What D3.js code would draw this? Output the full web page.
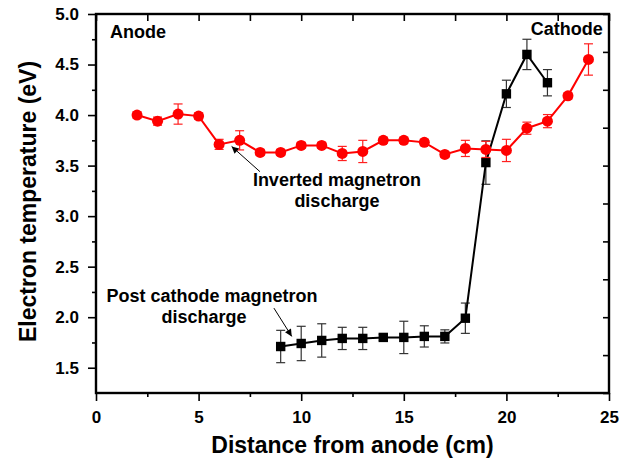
<!DOCTYPE html>
<html>
<head>
<meta charset="utf-8">
<script src="https://cdn.jsdelivr.net/npm/d3@7"></script>
<style>
  html, body { margin: 0; padding: 0; background: #fff; }
  svg text { font-family: "Liberation Sans", Arial, sans-serif; font-weight: bold; fill: #000; }
</style>
</head>
<body>
<div id="chart"></div>
<script>
// 数据：反向磁控放电（红）
const distRed = [2, 3, 4, 5, 6, 7, 8, 9, 10, 11, 12, 13, 14, 15, 16, 17, 18, 19, 20, 21, 22, 23, 24];
const teRed   = [4.00, 3.94, 4.01, 3.99, 3.71, 3.75, 3.63, 3.63, 3.70, 3.70, 3.62, 3.64, 3.75, 3.75, 3.73, 3.61, 3.67, 3.66, 3.65, 3.87, 3.94, 4.19, 4.55];
const errRed  = [0.03, 0.04, 0.10, 0.03, 0.05, 0.095, 0.03, 0.03, 0.03, 0.03, 0.07, 0.11, 0.03, 0.03, 0.03, 0.03, 0.08, 0.08, 0.11, 0.06, 0.065, 0.03, 0.155];

// 数据：后阴极磁控放电（黑）
const distBlack = [9, 10, 11, 12, 13, 14, 15, 16, 17, 18, 19, 20, 21, 22];
const teBlack   = [1.71, 1.74, 1.77, 1.79, 1.79, 1.80, 1.80, 1.81, 1.81, 1.99, 3.53, 4.21, 4.60, 4.32];
const errBlack  = [0.16, 0.17, 0.165, 0.11, 0.11, 0.03, 0.16, 0.105, 0.065, 0.15, 0.215, 0.135, 0.15, 0.13];

// 刻度
const xTicks = [0, 5, 10, 15, 20, 25];
const xMinor = [2.5, 7.5, 12.5, 17.5, 22.5];
const yTicks = [1.5, 2.0, 2.5, 3.0, 3.5, 4.0, 4.5, 5.0];
const yMinor = [1.75, 2.25, 2.75, 3.25, 3.75, 4.25, 4.75];

const width = 632, height = 465;

const svg = d3.select('#chart').append('svg')
    .attr('width', width)
    .attr('height', height);

const x = d3.scaleLinear().domain([0, 25]).range([96, 609]);
const y = d3.scaleLinear().domain([1.25, 5.0]).range([393, 14]);

// 右侧刻度：范围十等分
const yRight = d3.range(11).map(i => 1.25 + i * 0.375);
const xTop = d3.range(11).map(i => i * 2.5);

// 左轴
const left = svg.append('g').attr('transform', `translate(${x(0)},0)`);
left.call(d3.axisLeft(y).tickValues(yTicks).tickSize(8).tickPadding(9).tickFormat(d3.format('.1f')));
left.append('g').call(d3.axisLeft(y).tickValues(yMinor).tickSize(4).tickFormat(''));

// 底轴
const bottom = svg.append('g').attr('transform', `translate(0,${y(1.25)})`);
bottom.call(d3.axisBottom(x).tickValues(xTicks).tickSize(8).tickPadding(10).tickFormat(d3.format('d')));
bottom.append('g').call(d3.axisBottom(x).tickValues(xMinor).tickSize(4).tickFormat(''));

// 顶轴、右轴（向内刻度）
svg.append('g').attr('transform', `translate(0,${y(5)})`)
    .call(d3.axisBottom(x).tickValues(xTop).tickSize(7).tickFormat(''));
svg.append('g').attr('transform', `translate(${x(25)},0)`)
    .call(d3.axisLeft(y).tickValues(yRight).tickSize(6).tickFormat(''));

svg.selectAll('.domain').remove();
svg.selectAll('.tick line').attr('stroke', '#000').attr('stroke-width', 1.6);
svg.selectAll('.tick text').style('font-size', '17px').attr('fill', '#000');

// 边框
svg.append('rect')
    .attr('x', x(0)).attr('y', y(5))
    .attr('width', x(25) - x(0)).attr('height', y(1.25) - y(5))
    .attr('fill', 'none').attr('stroke', '#000').attr('stroke-width', 2.4);

// 坐标轴标题
svg.append('text')
    .attr('x', (x(0) + x(25)) / 2).attr('y', 453)
    .attr('text-anchor', 'middle')
    .style('font-size', '23px')
    .text('Distance from anode (cm)');

svg.append('text')
    .attr('transform', `translate(36,${(y(1.25) + y(5)) / 2 - 2}) rotate(-90)`)
    .attr('text-anchor', 'middle')
    .style('font-size', '23px')
    .text('Electron temperature (eV)');

// 绘制一组数据
function drawSeries(dist, te, err, color, barColor, shape) {
    const pts = dist.map((d, i) => ({ x: d, y: te[i], e: err[i] }));
    const g = svg.append('g');

    // 误差棒
    const bars = g.selectAll('.err').data(pts).enter().append('g')
        .attr('stroke', barColor).attr('stroke-width', 1.2);
    bars.append('line')
        .attr('x1', d => x(d.x)).attr('x2', d => x(d.x))
        .attr('y1', d => y(d.y - d.e)).attr('y2', d => y(d.y + d.e));
    bars.append('line')
        .attr('x1', d => x(d.x) - 4.5).attr('x2', d => x(d.x) + 4.5)
        .attr('y1', d => y(d.y + d.e)).attr('y2', d => y(d.y + d.e));
    bars.append('line')
        .attr('x1', d => x(d.x) - 4.5).attr('x2', d => x(d.x) + 4.5)
        .attr('y1', d => y(d.y - d.e)).attr('y2', d => y(d.y - d.e));

    // 连线
    g.append('path')
        .datum(pts)
        .attr('fill', 'none')
        .attr('stroke', color)
        .attr('stroke-width', 2)
        .attr('d', d3.line().x(d => x(d.x)).y(d => y(d.y)));

    // 标记
    if (shape === 'circle') {
        g.selectAll('.pt').data(pts).enter().append('circle')
            .attr('cx', d => x(d.x)).attr('cy', d => y(d.y))
            .attr('r', 5.5).attr('fill', color);
    } else {
        g.selectAll('.pt').data(pts).enter().append('rect')
            .attr('x', d => x(d.x) - 4.7).attr('y', d => y(d.y) - 4.7)
            .attr('width', 9.4).attr('height', 9.4).attr('fill', color);
    }
}

drawSeries(distBlack, teBlack, errBlack, '#000', '#333', 'square');
drawSeries(distRed, teRed, errRed, '#ff0000', '#ff2020', 'circle');

// 箭头
svg.append('defs').append('marker')
    .attr('id', 'arrow')
    .attr('viewBox', '0 0 10 10')
    .attr('refX', 10).attr('refY', 5)
    .attr('markerWidth', 9).attr('markerHeight', 7)
    .attr('markerUnits', 'userSpaceOnUse')
    .attr('orient', 'auto')
    .append('path').attr('d', 'M0,0 L10,5 L0,10 Z').attr('fill', '#000');

function arrow(x1, y1, x2, y2) {
    svg.append('line')
        .attr('x1', x(x1)).attr('y1', y(y1))
        .attr('x2', x(x2)).attr('y2', y(y2))
        .attr('stroke', '#000').attr('stroke-width', 1)
        .attr('marker-end', 'url(#arrow)');
}
arrow(7.99, 3.44, 6.61, 3.69);
arrow(8.67, 2.09, 9.54, 1.81);

// 注释文字
function label(txt, xv, yv, anchor) {
    svg.append('text')
        .attr('x', x(xv)).attr('y', y(yv))
        .attr('text-anchor', anchor)
        .style('font-size', '18px')
        .text(txt);
}
label('Anode', 0.68, 4.76, 'start');
label('Cathode', 24.7, 4.79, 'end');
label('Inverted magnetron', 11.74, 3.30, 'middle');
label('discharge', 11.74, 3.087, 'middle');
label('Post cathode magnetron', 5.65, 2.155, 'middle');
label('discharge', 5.26, 1.94, 'middle');
</script>
</body>
</html>
